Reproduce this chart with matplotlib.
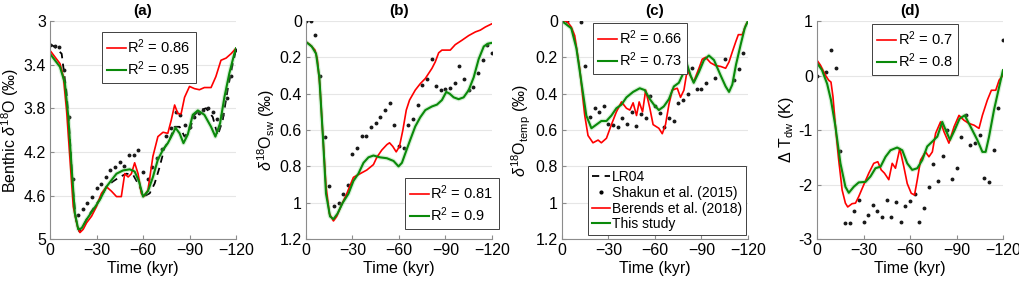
import numpy as np
import matplotlib
matplotlib.use('Agg')
import matplotlib.pyplot as plt
from matplotlib.lines import Line2D

plt.rcParams['font.family'] = ['Liberation Sans', 'DejaVu Sans']
plt.rcParams['mathtext.fontset'] = 'custom'
plt.rcParams['mathtext.rm'] = 'Liberation Sans'
plt.rcParams['mathtext.it'] = 'Liberation Sans:italic'
plt.rcParams['mathtext.bf'] = 'Liberation Sans:bold'

# Shakun et al. (2015) sample times (kyr), 3 kyr spacing
shakun_t = list(range(0, -121, -3))

# ---------------- panel (a): benthic d18O ----------------
a_red_t = [0, -6.4, -8.6, -10.7, -12.9, -15, -17.6, -19.3, -21.4, -23.6, -26.8, -30, -33.2, -36.4, -39.6,
           -42.9, -46, -48.2, -50.4, -52.5, -54.6, -56.8, -58.9, -60.4, -63.2, -66.4, -69.6, -72.9, -76,
           -78.2, -80.4, -82.5, -84.6, -86.8, -90, -93.2, -96.4, -99.6, -103.9, -107, -110.3, -113.6,
           -116.8, -120]
a_red_v = [3.27, 3.39, 3.51, 3.82, 4.27, 4.70, 4.88, 4.94, 4.91, 4.85, 4.79, 4.70, 4.58, 4.52, 4.56,
           4.61, 4.61, 4.40, 4.43, 4.40, 4.30, 4.40, 4.58, 4.61, 4.55, 4.24, 4.06, 4.02, 4.03,
           3.91, 3.77, 3.85, 3.85, 3.70, 3.60, 3.62, 3.63, 3.61, 3.61, 3.51, 3.36, 3.34, 3.30, 3.25]
a_grn_t = [0, -6.4, -9.6, -11.8, -13.9, -16, -18.2, -20.4, -23.6, -27.9, -32.1, -36.4, -39.6, -42.9,
           -47.1, -51.4, -54.6, -57.4, -60, -63.2, -66.4, -69.6, -72.9, -76, -79.3, -81, -83.6, -86.1,
           -88.9, -92.1, -95.4, -99.6, -103.9, -106.7, -109.7, -112.5, -115.7, -118.9, -120]
a_grn_v = [3.30, 3.42, 3.57, 3.88, 4.34, 4.76, 4.91, 4.90, 4.82, 4.73, 4.64, 4.52, 4.46, 4.40,
           4.37, 4.36, 4.38, 4.47, 4.61, 4.56, 4.43, 4.27, 4.18, 4.12, 4.03, 3.98, 4.03, 4.12,
           4.04, 3.86, 3.82, 3.86, 3.97, 4.06, 3.94, 3.70, 3.48, 3.30, 3.25]
lr04_t = [0, -3.2, -7.5, -10.7, -12.9, -14.6, -16.7, -18.9, -21.4, -24.6, -28.9, -33.2, -36.4, -40.7,
          -45, -49.3, -53.6, -57.9, -60.4, -64.3, -67.5, -70.7, -73.9, -77.1, -80.4, -83.6, -86.8, -90,
          -93.2, -96.4, -100.7, -105, -108.2, -111.4, -114.6, -117.9, -120]
lr04_v = [3.21, 3.24, 3.30, 3.66, 4.09, 4.52, 4.82, 4.93, 4.88, 4.79, 4.70, 4.61, 4.52, 4.47,
          4.43, 4.40, 4.41, 4.52, 4.61, 4.58, 4.49, 4.34, 4.16, 4.09, 3.97, 3.97, 4.06, 4.00,
          3.86, 3.82, 3.80, 3.88, 4.05, 3.91, 3.63, 3.39, 3.27]
a_shakun = [3.22, 3.23, 3.24, 3.45, 3.88, 4.45, 4.78, 4.72, 4.67, 4.61, 4.53, 4.49, 4.43, 4.37, 4.34,
            4.29, 4.33, 4.23, 4.23, 4.18, 4.38, 4.45, 4.34, 4.26, 4.17, 4.05, 3.98, 3.83, 3.86, 3.95,
            3.97, 3.88, 3.84, 3.82, 3.80, 3.83, 3.90, 3.86, 3.71, 3.50, 3.27]

# ---------------- panel (b): d18O sea water ----------------
b_red_t = [0, -2.6, -5.8, -7.3, -9, -10.8, -12.9, -15.1, -17.7, -19.8, -23, -26.3, -30.6, -34.9, -39.2,
           -43.5, -45.7, -48.9, -52.2, -53.9, -56, -58.2, -60.3, -62.5, -64.7, -66.8, -70.5, -73.7, -77,
           -81.3, -83.4, -85.6, -87.7, -90.9, -93.1, -96.3, -100.6, -105, -109.3, -112.5, -115.7, -120]
b_red_v = [0.115, 0.13, 0.16, 0.21, 0.36, 0.62, 0.91, 1.06, 1.10, 1.075, 1.01, 0.95, 0.86, 0.84, 0.82,
           0.79, 0.75, 0.71, 0.68, 0.67, 0.69, 0.72, 0.69, 0.60, 0.49, 0.435, 0.38, 0.345, 0.316,
           0.26, 0.225, 0.175, 0.16, 0.16, 0.16, 0.13, 0.106, 0.08, 0.06, 0.05, 0.033, 0.015]
b_grn_t = [0, -3.7, -6.5, -8.6, -10.8, -12.9, -15.5, -17.7, -20.3, -23.7, -27.4, -30.6, -33.8, -37.1,
           -40.3, -43.5, -47.8, -52.2, -56.5, -59.7, -61.9, -64, -67.2, -70.5, -73.7, -77, -81.3, -84.5,
           -87.7, -90.5, -92.7, -95.3, -98.5, -101.7, -105, -108.2, -111.4, -114.7, -117.2, -120]
b_grn_v = [0.115, 0.14, 0.18, 0.31, 0.62, 0.95, 1.075, 1.09, 1.06, 1.00, 0.95, 0.88, 0.84, 0.78,
           0.75, 0.74, 0.75, 0.755, 0.77, 0.80, 0.78, 0.73, 0.655, 0.58, 0.53, 0.49, 0.47, 0.46,
           0.435, 0.39, 0.40, 0.42, 0.43, 0.42, 0.38, 0.31, 0.21, 0.14, 0.125, 0.12]
b_shakun = [0.0, 0.0, 0.077, 0.30, 0.64, 0.91, 1.02, 1.00, 0.95, 0.90, 0.73, 0.70, 0.63, 0.63, 0.585,
            0.56, 0.53, 0.49, 0.45, 0.57, 0.69, 0.70, 0.57, 0.54, 0.46, 0.35, 0.32, 0.21, 0.36, 0.38,
            0.375, 0.37, 0.34, 0.25, 0.32, 0.38, 0.365, 0.285, 0.215, 0.13, 0.175]

# ---------------- panel (c): d18O temperature ----------------
c_red_t = [0, -3.2, -6, -8.2, -11.4, -14.7, -16.8, -20, -23.3, -25.4, -28.7, -31.9, -35.1, -38.4, -41.6,
           -43.8, -45.9, -48.1, -49.8, -52, -54, -56.7, -58.8, -62.5, -64.7, -66.8, -69, -71.1, -74.4,
           -76.5, -78.7, -80.8, -85, -88.4, -90.5, -92.7, -95.9, -99.1, -102.4, -105.6, -107.8, -109.9,
           -112.1, -113.8, -116.4, -118.5, -120]
c_red_v = [0.0, 0.0, 0.033, 0.08, 0.26, 0.52, 0.63, 0.67, 0.655, 0.67, 0.645, 0.57, 0.50, 0.445, 0.48,
           0.49, 0.45, 0.52, 0.445, 0.50, 0.38, 0.48, 0.57, 0.59, 0.62, 0.57, 0.46, 0.38, 0.37,
           0.42, 0.38, 0.27, 0.335, 0.26, 0.21, 0.20, 0.23, 0.245, 0.25, 0.26, 0.225, 0.17,
           0.115, 0.075, 0.075, 0.024, 0.0]
c_grn_t = [0, -6, -9.3, -12.5, -15.7, -19, -22.2, -25.4, -28.7, -31.9, -35.1, -38.4, -41.6, -45.9,
           -50.2, -53.4, -56.7, -59.3, -62.5, -65.7, -69, -72.2, -75.4, -78.7, -80.4, -83, -85, -88.4,
           -91.6, -94.8, -98.1, -102.4, -105.6, -107.8, -109.9, -112.3, -115.3, -117.9, -120]
c_grn_v = [0.0, 0.04, 0.15, 0.335, 0.52, 0.59, 0.57, 0.55, 0.55, 0.52, 0.48, 0.46, 0.42, 0.39,
           0.37, 0.38, 0.43, 0.46, 0.49, 0.47, 0.43, 0.36, 0.34, 0.28, 0.23, 0.30, 0.34, 0.28,
           0.215, 0.19, 0.215, 0.30, 0.36, 0.39, 0.35, 0.24, 0.13, 0.04, 0.0]
c_shakun = [0.0, 0.0, np.nan, np.nan, 0.005, 0.245, 0.53, 0.48, 0.50, 0.47, 0.565, 0.57, 0.585, 0.535,
            0.565, 0.50, 0.58, 0.51, 0.535, 0.415, 0.465, 0.505, 0.585, 0.535, 0.55, 0.45, 0.435, 0.40,
            0.26, 0.375, 0.375, 0.34, np.nan, 0.316, np.nan, 0.207, np.nan, 0.325, 0.265, 0.175, np.nan]

# ---------------- panel (d): deep water temperature ----------------
d_red_t = [0, -2.2, -5.4, -7.5, -9, -10.3, -11.9, -14, -16.2, -18.3, -19.8, -22.6, -24.8, -26.9, -30.2,
           -33.4, -36.6, -39.2, -41.4, -43.5, -46.3, -48.5, -50.6, -53.4, -56, -58.2, -60.8, -62.9,
           -64.7, -66.8, -70, -72.2, -74.4, -76.5, -79.7, -81.9, -85.1, -88.4, -91.6, -94.8, -98.1,
           -101.3, -104.5, -106.7, -109.9, -112.5, -115.3, -117.5, -120]
d_red_v = [0.28, 0.19, 0.006, -0.085, -0.12, -0.39, -0.94, -1.55, -2.10, -2.34, -2.41, -2.35, -2.34,
           -2.22, -2.0, -1.79, -1.61, -1.58, -1.73, -1.79, -1.91, -1.61, -1.70, -1.34, -1.67, -1.98,
           -2.16, -2.19, -1.91, -1.55, -1.40, -1.49, -1.40, -1.06, -0.85, -1.03, -1.24, -0.94, -0.73,
           -0.82, -0.88, -0.91, -0.97, -0.73, -0.45, -0.27, -0.27, -0.085, 0.006]
d_grn_t = [0, -3.2, -6.5, -9, -11.9, -15.1, -18.3, -20.5, -23.7, -26.9, -31.3, -34.5, -37.7, -41, -44.2,
           -47.4, -51.7, -55, -58.2, -61.4, -64.7, -67.9, -71.1, -74.4, -77.6, -80.8, -83, -85.8, -88.8,
           -92, -95.3, -99.1, -103.4, -106.7, -108.8, -111, -114.2, -117.5, -120]
d_grn_v = [0.23, 0.10, -0.15, -0.45, -0.94, -1.61, -2.04, -2.15, -2.04, -1.96, -1.95, -1.85, -1.70,
           -1.67, -1.49, -1.37, -1.32, -1.37, -1.61, -1.73, -1.70, -1.55, -1.30, -1.21, -1.12, -0.85,
           -1.0, -1.18, -1.0, -0.79, -0.73, -0.94, -1.18, -1.40, -1.40, -1.12, -0.63, -0.21, 0.10]
d_shakun = [0.0, np.nan, 0.07, 0.46, 0.14, -1.38, -2.71, -2.71, -2.49, -2.28, -2.69, -2.55, -2.38, -2.48,
            -2.60, -2.28, -2.59, -2.31, -2.68, -2.40, -2.30, -2.17, -2.68, -2.42, -2.04, -1.62, -1.93,
            -1.48, -1.00, -1.90, -1.70, -1.12, -0.73, -1.27, -1.23, -1.09, -1.88, -1.95, -1.37, -0.60, 0.65]

r2_labels = {
    'a': ('0.86', '0.95'),
    'b': ('0.81', '0.9'),
    'c': ('0.66', '0.73'),
    'd': ('0.7', '0.8'),
}

RED = '#ff0000'
GREEN = '#0a8a0a'
BAND = '#7fcf7f'

fig = plt.figure(figsize=(10.19, 2.84), dpi=100)
lefts = [0.0491, 0.3003, 0.5515, 0.8018]
axes = [fig.add_axes([l, 0.158, 0.1825, 0.768]) for l in lefts]


def style_axis(ax, title):
    ax.set_xlim(0, -120)
    ax.set_xticks([0, -30, -60, -90, -120])
    ax.set_xlabel('Time (kyr)', fontsize=11.5, labelpad=2)
    ax.set_title(title, fontsize=11, fontweight='bold', pad=4)
    ax.yaxis.grid(True, color='#e6e6e6', lw=0.8)
    ax.set_axisbelow(True)
    for s in ['top', 'right']:
        ax.spines[s].set_visible(False)
    for s in ['left', 'bottom']:
        ax.spines[s].set_color('#8c8c8c')
        ax.spines[s].set_linewidth(0.8)
    ax.tick_params(direction='in', length=3, color='#8c8c8c', labelsize=11.5, pad=3)


def draw_models(ax, rt, rv, gt, gv):
    ax.plot(gt, gv, color=BAND, lw=3.2, alpha=0.3, solid_capstyle='butt')
    ax.plot(rt, rv, color=RED, lw=1.2)
    ax.plot(gt, gv, color=GREEN, lw=1.5)


def r2_legend(ax, key, anchor):
    h = [Line2D([], [], color=RED, lw=1.2), Line2D([], [], color=GREEN, lw=1.5)]
    lab = ['R$^2$ = ' + r2_labels[key][0], 'R$^2$ = ' + r2_labels[key][1]]
    leg = ax.legend(h, lab, loc='upper left', bbox_to_anchor=anchor, borderaxespad=0,
                    fontsize=10.5, handlelength=1.3, handletextpad=0.1, labelspacing=0.25,
                    borderpad=0.35, fancybox=False, framealpha=1, edgecolor='#404040')
    leg.get_frame().set_linewidth(0.7)
    return leg


# (a)
ax = axes[0]
ax.plot(lr04_t, lr04_v, color='black', ls=(0, (4, 3)), lw=1.3)
ax.plot(shakun_t, a_shakun, ls='none', marker='.', ms=3.6, color='#1a1a1a')
draw_models(ax, a_red_t, a_red_v, a_grn_t, a_grn_v)
ax.set_ylim(5, 3)
ax.set_yticks([3, 3.4, 3.8, 4.2, 4.6, 5])
ax.set_yticklabels(['3', '3.4', '3.8', '4.2', '4.6', '5'])
ax.set_ylabel(r'Benthic $\delta^{18}$O (‰)', fontsize=11.5, labelpad=2)
style_axis(ax, '(a)')
r2_legend(ax, 'a', (0.278, 0.95))

# (b)
ax = axes[1]
ax.plot(shakun_t, b_shakun, ls='none', marker='.', ms=3.6, color='#1a1a1a')
draw_models(ax, b_red_t, b_red_v, b_grn_t, b_grn_v)
ax.set_ylim(1.2, 0)
ax.set_yticks([0, 0.2, 0.4, 0.6, 0.8, 1, 1.2])
ax.set_yticklabels(['0', '0.2', '0.4', '0.6', '0.8', '1', '1.2'])
ax.set_ylabel(r'$\delta^{18}$O$_{\rm sw}$ (‰)', fontsize=11.5, labelpad=2)
style_axis(ax, '(b)')
r2_legend(ax, 'b', (0.532, 0.28))

# (c)
ax = axes[2]
ax.plot(shakun_t, c_shakun, ls='none', marker='.', ms=3.6, color='#1a1a1a')
draw_models(ax, c_red_t, c_red_v, c_grn_t, c_grn_v)
ax.set_ylim(1.2, 0)
ax.set_yticks([0, 0.2, 0.4, 0.6, 0.8, 1, 1.2])
ax.set_yticklabels(['0', '0.2', '0.4', '0.6', '0.8', '1', '1.2'])
ax.set_ylabel(r'$\delta^{18}$O$_{\rm temp}$ (‰)', fontsize=11.5, labelpad=2)
style_axis(ax, '(c)')
leg1 = r2_legend(ax, 'c', (0.168, 0.99))
ax.add_artist(leg1)
h = [Line2D([], [], color='black', ls=(0, (4, 3)), lw=1.3),
     Line2D([], [], ls='none', marker='.', ms=4, color='black'),
     Line2D([], [], color=RED, lw=1.2),
     Line2D([], [], color=GREEN, lw=1.5)]
lab = ['LR04', 'Shakun et al. (2015)', 'Berends et al. (2018)', 'This study']
leg2 = ax.legend(h, lab, loc='upper left', bbox_to_anchor=(0.14, 0.335), borderaxespad=0,
                 fontsize=10, handlelength=1.3, handletextpad=0.1, labelspacing=0.12,
                 borderpad=0.3, fancybox=False, framealpha=1, edgecolor='#404040')
leg2.get_frame().set_linewidth(0.7)

# (d)
ax = axes[3]
ax.plot(shakun_t, d_shakun, ls='none', marker='.', ms=3.6, color='#1a1a1a')
draw_models(ax, d_red_t, d_red_v, d_grn_t, d_grn_v)
ax.set_ylim(-3, 1)
ax.set_yticks([-3, -2, -1, 0, 1])
ax.set_yticklabels(['-3', '-2', '-1', '0', '1'])
ax.set_ylabel(r'$\Delta$ T$_{\rm dw}$ (K)', fontsize=11.5, labelpad=2)
style_axis(ax, '(d)')
r2_legend(ax, 'd', (0.297, 0.986))

fig.savefig('out.png', dpi=100)
